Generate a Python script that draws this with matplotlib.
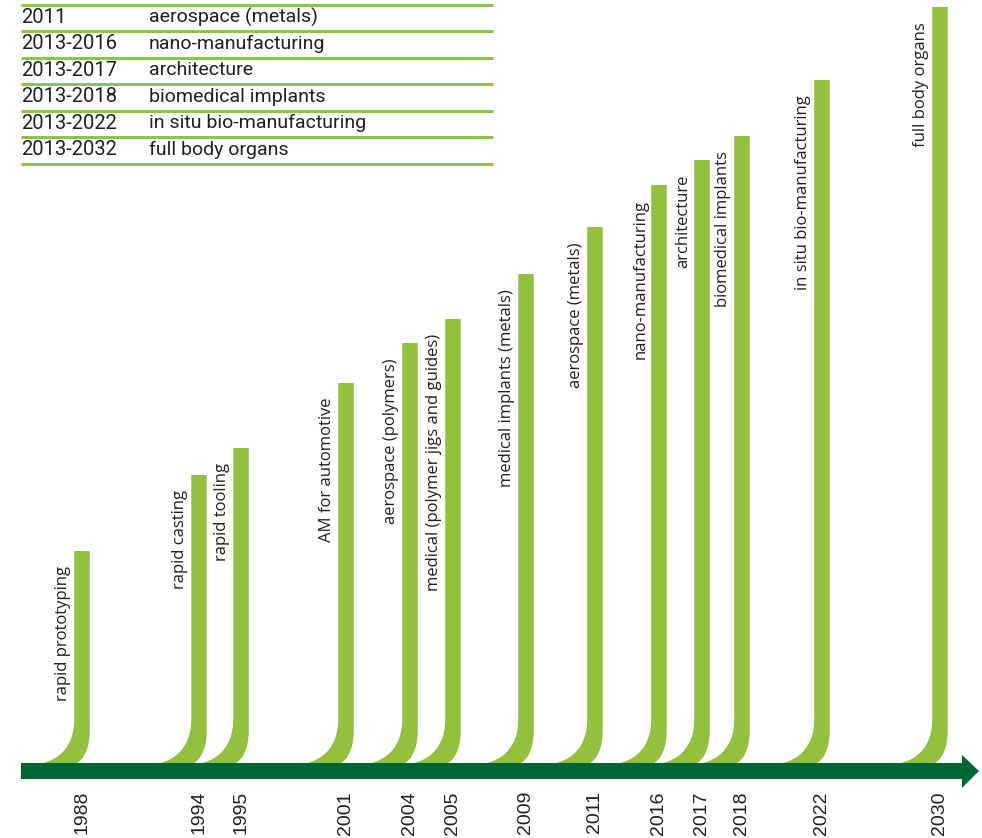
import matplotlib.pyplot as plt
from matplotlib.path import Path
from matplotlib.patches import PathPatch, Polygon

# timeline data
years = ['1988', '1994', '1995', '2001', '2004', '2005', '2009',
         '2011', '2016', '2017', '2018', '2022', '2030']
milestones = ['rapid prototyping', 'rapid casting', 'rapid tooling',
              'AM for automotive', 'aerospace (polymers)',
              'medical (polymer jigs and guides)', 'medical implants (metals)',
              'aerospace (metals)', 'nano-manufacturing', 'architecture',
              'biomedical implants', 'in situ bio-manufacturing', 'full body organs']
heights = [212, 288, 315, 380, 420, 444, 489, 536, 578, 603, 627, 683, 756]

# table data (top rows run off the page)
table_years = ['2009', '2011', '2013-2016', '2013-2017', '2013-2018',
               '2013-2022', '2013-2032']
table_items = ['medical implants (metals)', 'aerospace (metals)', 'nano-manufacturing',
               'architecture', 'biomedical implants', 'in situ bio-manufacturing',
               'full body organs']

# layout: bar centres along the arrow
x_pos = [82, 199, 241, 346, 410, 453, 526, 595, 659, 702, 742, 822, 940]

LIGHT = '#93c13d'
DARK = '#006633'
TXT = '#231f20'

fig = plt.figure(figsize=(9.82, 8.38), dpi=100)
ax = fig.add_axes([0, 0, 1, 1])
ax.set_xlim(0, 982)
ax.set_ylim(-75, 763)
ax.axis('off')

w = 15.5
for x, h, lab in zip(x_pos, heights, milestones):
    L, R = x - w / 2, x + w / 2
    verts = [(L - 48, -2), (L - 16, -2), (L, 16), (L, 44),
             (L, h), (R, h), (R, 32),
             (R, 11), (R - 9, -2), (L - 4, -2),
             (L - 48, -2)]
    codes = [Path.MOVETO, Path.CURVE4, Path.CURVE4, Path.CURVE4,
             Path.LINETO, Path.LINETO, Path.LINETO,
             Path.CURVE4, Path.CURVE4, Path.CURVE4,
             Path.CLOSEPOLY]
    ax.add_patch(PathPatch(Path(verts, codes), facecolor=LIGHT, edgecolor='none', zorder=2))
    ax.text(L - 3, h - 15, lab, rotation=90, ha='right', va='top',
            fontsize=12, family='Open Sans', color=TXT)

# arrow axis
arrow = [(21, 0), (962, 0), (962, 8), (979, -8), (962, -25), (962, -16), (21, -16)]
ax.add_patch(Polygon(arrow, closed=True, facecolor=DARK, edgecolor='none', zorder=3))

for x, yr in zip(x_pos, years):
    ax.text(x, -28, yr, rotation=90, ha='center', va='top',
            fontsize=14, family='Liberation Sans', color=TXT)

# table at the top left
row_h = 26.5
base = 763 - 164
n = len(table_years)
for i in range(n + 1):
    ax.plot([21, 493], [base + i * row_h] * 2, color='#8dc63f', lw=2.2, solid_capstyle='butt')
for i, (yr, item) in enumerate(zip(table_years, table_items)):
    yc = base + (n - 1 - i) * row_h + row_h / 2 + 1
    ax.text(21, yc, yr, ha='left', va='center', fontsize=14.5, family='Roboto', color=TXT)
    ax.text(149, yc, item, ha='left', va='center', fontsize=14, family='Roboto', color=TXT)

fig.savefig('out.png', dpi=100)
